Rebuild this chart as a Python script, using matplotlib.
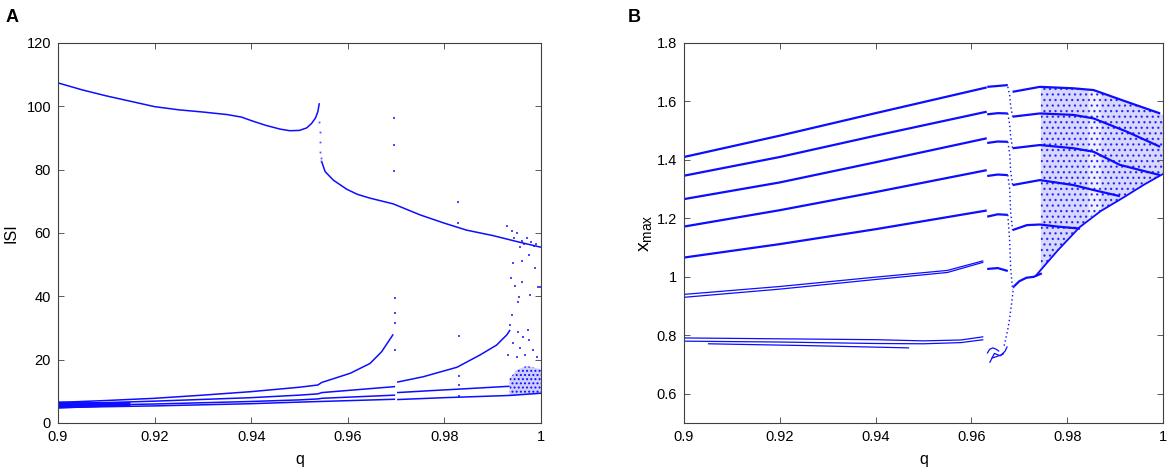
import matplotlib
matplotlib.use("Agg")
import matplotlib.pyplot as plt
from matplotlib.ticker import FuncFormatter

plt.rcParams['font.family'] = ['Liberation Sans', 'DejaVu Sans']
plt.rcParams['mathtext.fontset'] = 'custom'
plt.rcParams['mathtext.rm'] = 'Liberation Sans'
plt.rcParams['hatch.linewidth'] = 0.9

BLUE = (0.05, 0.05, 1.0)

# ---------------- panel A : ISI vs q ----------------
a_top1_q = [0.9, 0.905, 0.91, 0.915, 0.92, 0.925, 0.93, 0.935, 0.938, 0.94, 0.943, 0.946, 0.948,
            0.95, 0.9515, 0.9525, 0.9533, 0.9538, 0.9541]
a_top1_isi = [107.4, 105.2, 103.3, 101.6, 99.9, 98.9, 98.2, 97.4, 96.6, 95.5, 94.0, 92.8, 92.3,
              92.4, 93.2, 94.6, 96.3, 98.3, 101.0]
a_top2_q = [0.9546, 0.9553, 0.957, 0.9598, 0.962, 0.9646, 0.9694, 0.975, 0.98, 0.9846, 0.99, 0.995, 1.0]
a_top2_isi = [82.5, 79.4, 76.7, 73.8, 72.2, 71.0, 69.2, 65.7, 63.1, 60.9, 59.2, 57.3, 55.5]
a_drop_q = [0.9541, 0.9542, 0.9542, 0.9543, 0.9544, 0.9545]
a_drop_isi = [95.1, 92.0, 88.8, 85.7, 83.6, 82.8]

a_l1_q = [0.9, 0.91, 0.92, 0.93, 0.94, 0.95, 0.9538, 0.9546, 0.9605, 0.9646, 0.967, 0.9684, 0.9694]
a_l1_isi = [6.5, 7.1, 7.8, 8.8, 9.9, 11.3, 12.0, 12.8, 15.7, 18.8, 22.5, 25.7, 28.0]
a_l1b_q = [0.9702, 0.9756, 0.9826, 0.9874, 0.9908, 0.9929, 0.9936]
a_l1b_isi = [12.9, 14.6, 17.6, 21.5, 24.6, 27.8, 29.4]
a_l2_q = [0.9, 0.92, 0.94, 0.95, 0.9538, 0.9546, 0.9698]
a_l2_isi = [6.0, 6.9, 8.0, 8.8, 9.2, 9.6, 11.5]
a_l2b_q = [0.9702, 0.977, 0.983, 0.9935]
a_l2b_isi = [9.6, 10.2, 10.7, 11.6]
a_l3_q = [0.9, 0.92, 0.94, 0.95, 0.9538, 0.9546, 0.9698]
a_l3_isi = [5.4, 6.0, 6.8, 7.3, 7.6, 7.8, 8.8]
a_l3b_q = [0.9702, 0.98, 0.9935, 1.0]
a_l3b_isi = [7.4, 8.0, 8.7, 9.4]
a_l4_q = [0.9, 0.92, 0.94, 0.95, 0.9698]
a_l4_isi = [4.9, 5.4, 6.1, 6.6, 7.5]
# thick smeared band at the left end
a_band_q = [0.9, 0.905, 0.91, 0.915, 0.915, 0.91, 0.905, 0.9]
a_band_isi = [4.5, 4.8, 5.1, 5.4, 6.6, 6.6, 6.6, 6.8]

# isolated points and the scattered cloud near q = 1
a_dots_q = [0.9696, 0.9696, 0.9696, 0.9697, 0.9697, 0.9697, 0.9697, 0.9829, 0.9829, 0.9831, 0.9831,
            0.9831, 0.9831, 0.9929, 0.9939, 0.995, 0.9957, 0.9941, 0.9961, 0.9937, 0.9946, 0.996,
            0.9955, 0.9977, 0.9953, 0.9994, 0.9939, 0.9936, 0.9953, 0.9963, 0.9974, 0.9943, 0.9976,
            0.9957, 0.995, 0.9984, 0.9967, 0.9991, 0.9932, 0.9945, 0.996, 0.997, 0.998, 0.999,
            0.9985, 0.9965, 0.9998, 0.9975, 0.9988]
a_dots_isi = [96.2, 87.8, 79.7, 39.4, 34.7, 31.5, 23.1, 69.9, 63.3, 27.5, 15.0, 12.0, 8.4,
              62.2, 60.7, 59.9, 55.7, 50.6, 51.2, 45.7, 43.3, 44.6, 39.9, 40.4, 38.3, 43.0,
              34.1, 30.9, 28.8, 27.3, 29.4, 25.2, 26.2, 23.6, 20.9, 23.0, 21.5, 20.9, 21.5,
              58.5, 57.5, 58.3, 57.0, 56.5, 55.8, 56.5, 43.0, 53.0, 49.0]
a_cloud_q = [0.9935, 0.9935, 0.995, 0.997, 0.9985, 1.0, 1.0, 0.997, 0.9935]
a_cloud_isi = [8.6, 14.0, 16.8, 18.0, 17.5, 17.0, 9.2, 9.0, 8.6]

# ---------------- panel B : x_max vs q ----------------
b_pre_q = [0.9, 0.92, 0.94, 0.9632]
b_pre = [
    [1.41, 1.483, 1.560, 1.648],
    [1.346, 1.410, 1.483, 1.565],
    [1.266, 1.323, 1.392, 1.474],
    [1.172, 1.228, 1.290, 1.365],
    [1.066, 1.112, 1.163, 1.227],
]
b_r6_q = [0.9, 0.92, 0.94, 0.955, 0.9625]
b_r6 = [0.94, 0.967, 0.999, 1.022, 1.055]
b_r6b = [0.93, 0.958, 0.991, 1.015, 1.05]
b_r7_q = [0.9, 0.92, 0.94, 0.95, 0.9578, 0.9625]
b_r7a = [0.791, 0.788, 0.785, 0.781, 0.784, 0.795]
b_r7b = [0.780, 0.777, 0.772, 0.771, 0.775, 0.785]
b_r7c_q = [0.905, 0.925, 0.947]
b_r7c = [0.771, 0.765, 0.757]

# short plateaus just after the first break
b_seg_q = [0.9633, 0.9655, 0.9676]
b_seg = [
    [1.650, 1.653, 1.656],
    [1.556, 1.560, 1.559],
    [1.458, 1.463, 1.462],
    [1.345, 1.350, 1.348],
    [1.206, 1.214, 1.212],
    [1.027, 1.030, 1.020],
]
# dotted drops from each plateau to the next branch
b_drop_q = [0.9676, 0.968, 0.9682, 0.9686]
b_drop = [
    [1.650, 1.62, 1.585, 1.548],
    [1.559, 1.52, 1.48, 1.440],
    [1.462, 1.42, 1.36, 1.314],
    [1.348, 1.30, 1.22, 1.160],
    [1.212, 1.12, 1.03, 0.955],
]
b_fall_q = [0.9688, 0.9684, 0.968, 0.9676, 0.9672, 0.9668]
b_fall = [0.966, 0.91, 0.86, 0.82, 0.79, 0.762]
b_hook1_q = [0.9633, 0.9638, 0.9645, 0.9652, 0.9658]
b_hook1 = [0.738, 0.752, 0.757, 0.752, 0.745]
b_hook2_q = [0.9642, 0.9652, 0.9662, 0.967, 0.9675]
b_hook2 = [0.722, 0.727, 0.733, 0.745, 0.762]
b_hook3_q = [0.9638, 0.9648, 0.966, 0.9668]
b_hook3 = [0.706, 0.738, 0.730, 0.738]

# branches after the break, into the chaotic fan
b_post = [
    ([0.9686, 0.9743, 0.9813, 0.9855, 0.9924, 0.9994], [1.633, 1.650, 1.645, 1.639, 1.599, 1.559]),
    ([0.9686, 0.9743, 0.9813, 0.9855, 0.9924, 0.9994], [1.548, 1.559, 1.554, 1.542, 1.497, 1.445]),
    ([0.9686, 0.9743, 0.9813, 0.9855, 0.991, 0.9994], [1.440, 1.451, 1.440, 1.428, 1.383, 1.348]),
    ([0.9686, 0.9743, 0.9813, 0.9855, 0.991], [1.314, 1.331, 1.314, 1.297, 1.276]),
    ([0.9686, 0.9716, 0.9743, 0.978, 0.9827], [1.160, 1.177, 1.179, 1.172, 1.165]),
    ([0.9688, 0.970, 0.9715, 0.973, 0.9747], [0.966, 0.985, 0.997, 1.0, 1.012]),
]
b_low_q = [0.9735, 0.978, 0.9826, 0.987, 0.992, 0.996, 1.0]
b_low = [1.005, 1.09, 1.17, 1.225, 1.274, 1.315, 1.352]
# envelope of the chaotic fan (two dense parts and a thinner middle)
b_fanA_q = [0.9745, 0.9780, 0.9813, 0.9845, 0.9845, 0.9826, 0.978, 0.9745]
b_fanA = [1.650, 1.650, 1.645, 1.641, 1.20, 1.17, 1.09, 1.02]
b_fanM_q = [0.9845, 0.9870, 0.9870, 0.9845]
b_fanM = [1.641, 1.635, 1.225, 1.20]
b_fanB_q = [0.9870, 0.9924, 0.9965, 1.0, 1.0, 0.996, 0.992, 0.987]
b_fanB = [1.635, 1.599, 1.575, 1.555, 1.352, 1.315, 1.274, 1.225]

x_ticks = [0.9, 0.92, 0.94, 0.96, 0.98, 1.0]


def style_axes(ax):
    for s in ax.spines.values():
        s.set_color("0.25")
        s.set_linewidth(0.8)
    ax.tick_params(direction="in", length=4, width=0.7, color="0.35",
                   top=True, right=True, labelsize=10.5, pad=5)
    ax.xaxis.set_major_formatter(FuncFormatter(lambda v, p: f"{v:g}"))
    ax.yaxis.set_major_formatter(FuncFormatter(lambda v, p: f"{v:g}"))
    ax.set_xlim(0.9, 1.0)
    ax.set_xticks(x_ticks)
    ax.set_xlabel("q", fontsize=11.5, labelpad=6)


def draw_a(ax):
    line = dict(color=BLUE, lw=1.1, solid_capstyle="butt")
    ax.fill(a_band_q, a_band_isi, color=BLUE, lw=0)
    ax.plot(a_top1_q, a_top1_isi, **line)
    ax.plot(a_top2_q, a_top2_isi, **line)
    for q, v in [(a_l1_q, a_l1_isi), (a_l1b_q, a_l1b_isi), (a_l2_q, a_l2_isi),
                 (a_l2b_q, a_l2b_isi), (a_l3_q, a_l3_isi), (a_l3b_q, a_l3b_isi),
                 (a_l4_q, a_l4_isi)]:
        ax.plot(q, v, **line)
    ax.plot(a_drop_q, a_drop_isi, ls="none", marker="s", ms=1.3, mew=0, color=BLUE, alpha=0.7)
    ax.plot(a_dots_q, a_dots_isi, ls="none", marker="s", ms=1.5, mew=0, color=BLUE, alpha=0.75)
    ax.fill(a_cloud_q, a_cloud_isi, facecolor=(0.05, 0.05, 1.0, 0.2),
            edgecolor=BLUE, hatch="....", lw=0)
    ax.set_ylim(0, 120)
    ax.set_yticks(range(0, 121, 20))
    ax.set_ylabel("ISI", fontsize=11.5, labelpad=6)
    style_axes(ax)


def draw_b(ax):
    line = dict(color=BLUE, lw=1.6, solid_capstyle="butt")
    thin = dict(color=BLUE, lw=0.9, solid_capstyle="butt")
    for fq, fy, a in [(b_fanA_q, b_fanA, 0.16), (b_fanM_q, b_fanM, 0.06), (b_fanB_q, b_fanB, 0.16)]:
        ax.fill(fq, fy, facecolor=(0.05, 0.05, 1.0, a), edgecolor=(0.05, 0.05, 1.0, 0.8),
                hatch="...", lw=0)
    for v in b_pre:
        ax.plot(b_pre_q, v, **line)
    ax.plot(b_r6_q, b_r6, **thin)
    ax.plot(b_r6_q, b_r6b, **thin)
    ax.plot(b_r7_q, b_r7a, **thin)
    ax.plot(b_r7_q, b_r7b, **thin)
    ax.plot(b_r7c_q, b_r7c, **thin)
    for v in b_seg:
        ax.plot(b_seg_q, v, **line)
    for v in b_drop:
        ax.plot(b_drop_q, v, color=BLUE, lw=1.0, ls=(0, (1, 2)))
    ax.plot(b_fall_q, b_fall, color=BLUE, lw=1.0, ls=(0, (1, 2)))
    for q, v in [(b_hook1_q, b_hook1), (b_hook2_q, b_hook2), (b_hook3_q, b_hook3)]:
        ax.plot(q, v, **thin)
    for q, v in b_post:
        ax.plot(q, v, **line)
    ax.plot(b_low_q, b_low, color=BLUE, lw=1.3, solid_capstyle="butt")
    ax.set_ylim(0.5, 1.8)
    ax.set_yticks([0.6, 0.8, 1.0, 1.2, 1.4, 1.6, 1.8])
    ax.set_ylabel(r"$\mathregular{x_{max}}$", fontsize=14, labelpad=2)
    style_axes(ax)


def main():
    fig = plt.figure(figsize=(11.7, 4.76), dpi=100)
    ax_a = fig.add_axes([58 / 1170, 53 / 476, 483 / 1170, 380 / 476])
    ax_b = fig.add_axes([684 / 1170, 53 / 476, 479 / 1170, 380 / 476])
    draw_a(ax_a)
    draw_b(ax_b)
    fig.text(6 / 1170, 1 - 17 / 476, "A", fontsize=13, fontweight="bold", va="center")
    fig.text(628 / 1170, 1 - 17 / 476, "B", fontsize=13, fontweight="bold", va="center")
    fig.savefig("out.png", dpi=100)


if __name__ == "__main__":
    main()
